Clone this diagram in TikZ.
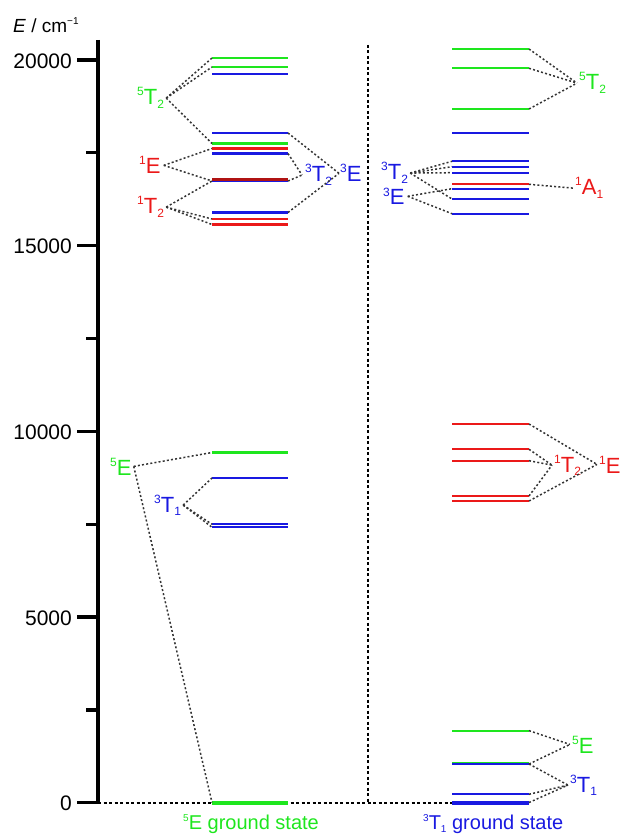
\documentclass[tikz,border=0pt]{standalone}
\usepackage{fontspec}
\setmainfont{Liberation Sans}
\definecolor{grn}{RGB}{30,230,30}
\definecolor{blu}{RGB}{25,25,225}
\definecolor{rd}{RGB}{235,25,25}
\newcommand\mysup[1]{\raisebox{9pt}{\fontsize{12}{12}\selectfont #1}}
\newcommand\mysub[1]{\raisebox{-3.5pt}{\fontsize{12}{12}\selectfont #1}}
\newcommand\mysupS[1]{\raisebox{8pt}{\fontsize{10}{10}\selectfont #1}}
\newcommand\Lv[3]{\draw[lvl,#1] (212,#3) coordinate (#2l) -- (288,#3) coordinate (#2r);}
\newcommand\Rv[3]{\draw[lvl,#1] (452,#3) coordinate (#2l) -- (529,#3) coordinate (#2r);}
\begin{document}
\begin{tikzpicture}[x=1pt,y=-1pt,
  lvl/.style={line width=2.2pt},
  conn/.style={draw=black!80,line width=1.5pt,dash pattern=on 2pt off 2.2pt},
  sepline/.style={draw=black,line width=2pt,dash pattern=on 3pt off 2.5pt},
  axisline/.style={line width=3.3pt},
  lab/.style={inner sep=0pt,anchor=base west,font=\fontsize{22}{22}\selectfont},
  ticklab/.style={inner sep=0pt,anchor=east,font=\fontsize{21}{21}\selectfont}]
\useasboundingbox (0,0) rectangle (621,834);
% axis
\draw[axisline] (98,40) coordinate (atop) -- (98,804) coordinate (a0);
\foreach \v/\y in {20000/60,15000/245.7,10000/431.3,5000/617,0/802.7}{
  \draw[axisline] (77,\y) -- (98,\y);
  \node[ticklab] (t\v) at (72,\y+1) {\v};}
\foreach \y in {152.8,338.5,524.2,709.9}
  \draw[axisline] (86,\y) -- (98,\y);
\node[inner sep=0pt,anchor=base west,font=\fontsize{19}{19}\selectfont] (ylab) at (13,33) {\textit{E} / cm\mysupS{−1}};
% separators
\coordinate (vt) at (368,45);
\coordinate (vb) at (368,802.5);
\coordinate (hz0) at (98,802.5);
\coordinate (hz1) at (452,802.5);
\draw[sepline] (vt) -- (vb);
\draw[sepline] (hz0) -- (hz1);
% left levels
\Lv{grn}{la1}{58}
\Lv{grn}{la2}{67}
\Lv{blu}{la3}{74}
\Lv{blu}{la4}{133}
\Lv{grn}{la5}{143.5}
\Lv{rd}{la6}{148.5}
\Lv{blu}{la7}{153.5}
\Lv{blu}{la8}{181}
\draw[lvl,rd!75!black] (212,179.5) -- (288,179.5);
\Lv{blu}{la9}{212.5}
\Lv{rd}{la10}{219}
\Lv{rd}{la11}{224.5}
\Lv{grn}{la12}{452.5}
\Lv{blu}{la13}{478}
\draw[line width=1.7pt,blu] (212,524.3) coordinate (la14l) -- (288,524.3);
\draw[line width=1.7pt,blu] (212,527.3) coordinate (la15l) -- (288,527.3);
\draw[line width=4pt,grn] (212,802.5) coordinate (lagl) -- (288,802.5) coordinate (lagr);
% right levels
\Rv{grn}{ra1}{49}
\Rv{grn}{ra2}{68.3}
\Rv{grn}{ra3}{109}
\Rv{blu}{ra4}{133.3}
\Rv{blu}{ra5}{161.3}
\Rv{blu}{ra6}{166.7}
\Rv{blu}{ra7}{172.7}
\Rv{rd}{ra8}{184.3}
\Rv{blu}{ra9}{188.7}
\Rv{blu}{ra10}{199}
\Rv{blu}{ra11}{213.7}
\Rv{rd}{ra12}{424}
\Rv{rd}{ra13}{449.3}
\Rv{rd}{ra14}{460.7}
\Rv{rd}{ra15}{496}
\Rv{rd}{ra16}{501}
\Rv{grn}{ra17}{730.7}
\draw[line width=2.8pt,blu] (452,764) coordinate (ra18l) -- (529,764) coordinate (ra18r);
\draw[line width=1pt,grn] (452,762.2) -- (529,762.2);
\Rv{blu}{ra19}{794.3}
\draw[line width=4pt,blu] (452,802.5) coordinate (ra20l) -- (529,802.5) coordinate (ra20r);
% labels
\node[lab,text=grn] (nL5T2) at (137,105) {\mysup{5}T\mysub{2}};
\node[lab,text=rd] (nL1E) at (139,174) {\mysup{1}E};
\node[lab,text=rd] (nL1T2) at (137,214) {\mysup{1}T\mysub{2}};
\node[lab,text=grn] (nL5E) at (110,475) {\mysup{5}E};
\node[lab,text=blu] (nL3T1) at (154,512) {\mysup{3}T\mysub{1}};
\node[lab,text=blu] (nL3T2) at (305,182) {\mysup{3}T\mysub{2}};
\node[lab,text=blu] (nL3E) at (340,182) {\mysup{3}E};
\node[lab,text=blu] (nR3T2) at (381,180) {\mysup{3}T\mysub{2}};
\node[lab,text=blu] (nR3E) at (383,205) {\mysup{3}E};
\node[lab,text=grn] (nR5T2) at (579,90) {\mysup{5}T\mysub{2}};
\node[lab,text=rd] (nR1A1) at (575,195) {\mysup{1}A\mysub{1}};
\node[lab,text=rd] (nR1T2) at (554,472) {\mysup{1}T\mysub{2}};
\node[lab,text=rd] (nR1E) at (599,473) {\mysup{1}E};
\node[lab,text=grn] (nR5E) at (572,753) {\mysup{5}E};
\node[lab,text=blu] (nR3T1) at (570,792) {\mysup{3}T\mysub{1}};
\node[inner sep=0pt,anchor=base west,text=grn,font=\fontsize{20}{20}\selectfont] (gsL) at (183,829) {\mysupS{5}E ground state};
\node[inner sep=0pt,anchor=base west,text=blu,font=\fontsize{20}{20}\selectfont] (gsR) at (423,829) {\mysupS{3}T\raisebox{-3pt}{\fontsize{10}{10}\selectfont 1} ground state};
% connectors left
\foreach \t in {la1l,la2l,la5l} \draw[conn] ([xshift=2pt]nL5T2.east) -- (\t);
\foreach \t in {la6l,la8l} \draw[conn] ([xshift=3pt]nL1E.east) -- (\t);
\foreach \t in {la8l,la10l,la11l} \draw[conn] ([xshift=2pt]nL1T2.east) -- (\t);
\foreach \t in {la12l,lagl} \draw[conn] ([xshift=2pt]nL5E.east) -- (\t);
\foreach \t in {la13l,la14l,la15l} \draw[conn] ([xshift=2pt]nL3T1.east) -- (\t);
\foreach \t in {la7r,la8r} \draw[conn] (\t) -- ([xshift=-3pt]nL3T2.west);
\foreach \t in {la4r,la9r} \draw[conn] (\t) -- ([xshift=-1pt]nL3E.west);
% connectors right
\foreach \t in {ra5l,ra6l,ra7l,ra10l} \draw[conn] ([xshift=2pt]nR3T2.east) -- (\t);
\foreach \t in {ra9l,ra11l} \draw[conn] ([xshift=3pt]nR3E.east) -- (\t);
\foreach \t in {ra1r,ra2r,ra3r} \draw[conn] (\t) -- ([xshift=-2pt]nR5T2.west);
\draw[conn] (ra8r) -- ([xshift=-2pt]nR1A1.west);
\foreach \t in {ra13r,ra14r,ra15r} \draw[conn] (\t) -- ([xshift=-2pt]nR1T2.west);
\foreach \t in {ra12r,ra16r} \draw[conn] (\t) -- ([xshift=-2pt]nR1E.west);
\foreach \t in {ra17r,ra18r} \draw[conn] (\t) -- ([xshift=-2pt]nR5E.west);
\foreach \t in {ra18r,ra19r,ra20r} \draw[conn] (\t) -- ([xshift=-2pt]nR3T1.west);
\end{tikzpicture}
\end{document}
